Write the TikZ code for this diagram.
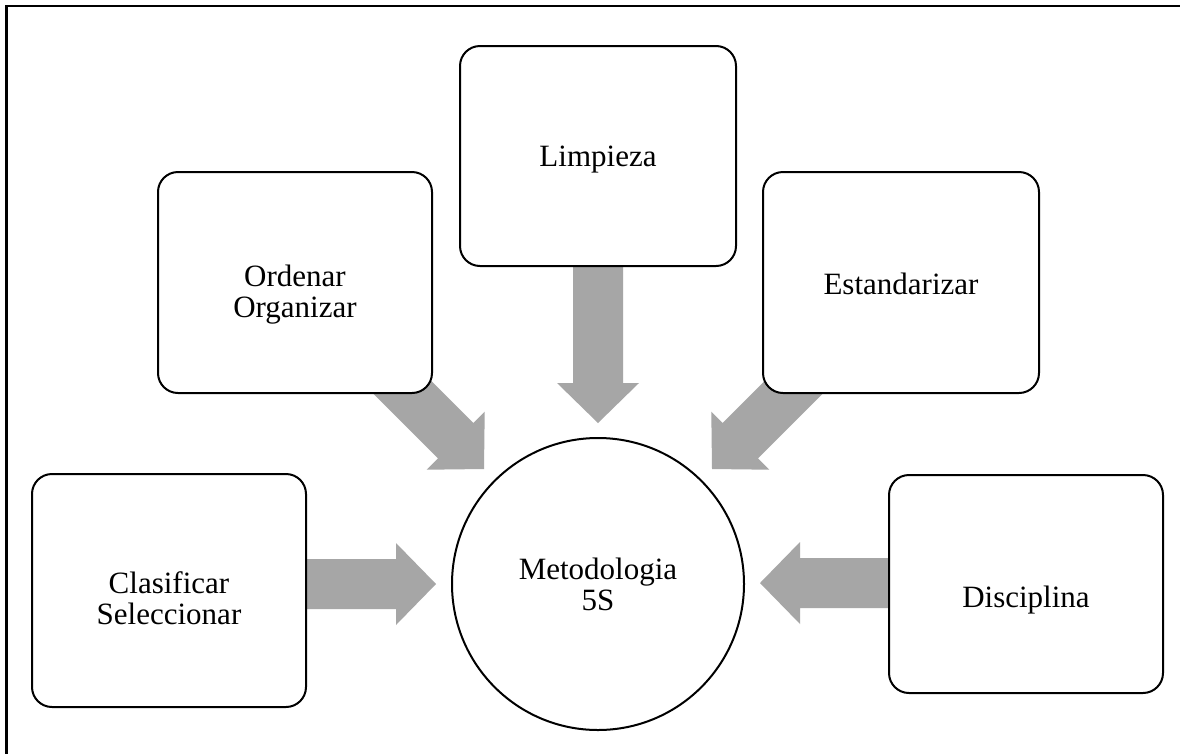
\documentclass[tikz,border=0pt]{standalone}
\usepackage{fontspec}
\setmainfont{Liberation Serif}
\usetikzlibrary{calc}
\definecolor{arrowgray}{RGB}{166,166,166}
\tikzset{
  boxnode/.style={draw=black, line width=2pt, fill=white, rounded corners=20pt, inner sep=0pt},
  roundnode/.style={draw=black, line width=2pt, fill=white, circle, inner sep=0pt, minimum size=292pt},
  lbl/.style={align=center, inner sep=0pt, font=\fontsize{31}{31}\selectfont},
  arrowfill/.style={fill=arrowgray}
}
\newcommand\blockarrow[3]{%
  \coordinate (#1-b) at ($(#3)!40pt!(#2)$);
  \fill[arrowfill] ($(#2)!25pt!90:(#3)$) -- ($(#1-b)!25pt!90:(#3)$) -- ($(#1-b)!41pt!90:(#3)$) -- (#3)
    -- ($(#1-b)!41pt!-90:(#3)$) -- ($(#1-b)!25pt!-90:(#3)$) -- ($(#2)!25pt!-90:(#3)$) -- cycle;
}
\begin{document}
\begin{tikzpicture}[x=1pt,y=1pt]
\useasboundingbox (0,0) rectangle (1180,-753);
\clip (0,0) rectangle (1180,-753);
\fill[white] (0,0) rectangle (1180,-753);
\draw[line width=2.5pt] (6.5,-6) rectangle (1195,-770);
% arrow end points
\coordinate (tclas) at (300,-584);
\coordinate (pclas) at (436,-584);
\coordinate (tdisc) at (895,-583);
\coordinate (pdisc) at (760,-583);
\coordinate (tlimp) at (598,-250);
\coordinate (plimp) at (598,-423);
\coordinate (tord) at (380,-365);
\coordinate (pord) at (484,-469);
\coordinate (test) at (816,-365);
\coordinate (pest) at (712,-469);
\blockarrow{aclas}{tclas}{pclas}
\blockarrow{adisc}{tdisc}{pdisc}
\blockarrow{alimp}{tlimp}{plimp}
\blockarrow{aord}{tord}{pord}
\blockarrow{aest}{test}{pest}
% boxes
\node[boxnode, minimum width=274pt, minimum height=233pt] (clas) at (169,-590.5) {};
\node[boxnode, minimum width=274pt, minimum height=221pt] (ord) at (295,-282.5) {};
\node[boxnode, minimum width=276pt, minimum height=220pt] (limp) at (598,-156) {};
\node[boxnode, minimum width=276pt, minimum height=221pt] (est) at (901,-282.5) {};
\node[boxnode, minimum width=274pt, minimum height=218pt] (disc) at (1026,-584) {};
\node[roundnode] (met) at (598,-584) {};
% labels
\node[lbl] (lclas) at ([yshift=-8pt]clas.center) {Clasificar\\Seleccionar};
\node[lbl] (lord) at ([yshift=-12pt]ord.center) {Ordenar\\Organizar};
\node[lbl] (llimp) at ([yshift=-4pt]limp.center) {Limpieza};
\node[lbl] (lest) at ([yshift=-1pt]est.center) {Estandarizar};
\node[lbl] (ldisc) at ([yshift=-16pt]disc.center) {Disciplina};
\node[lbl] (lmet) at ([yshift=0pt]met.center) {Metodologia\\5S};
\end{tikzpicture}
\end{document}
